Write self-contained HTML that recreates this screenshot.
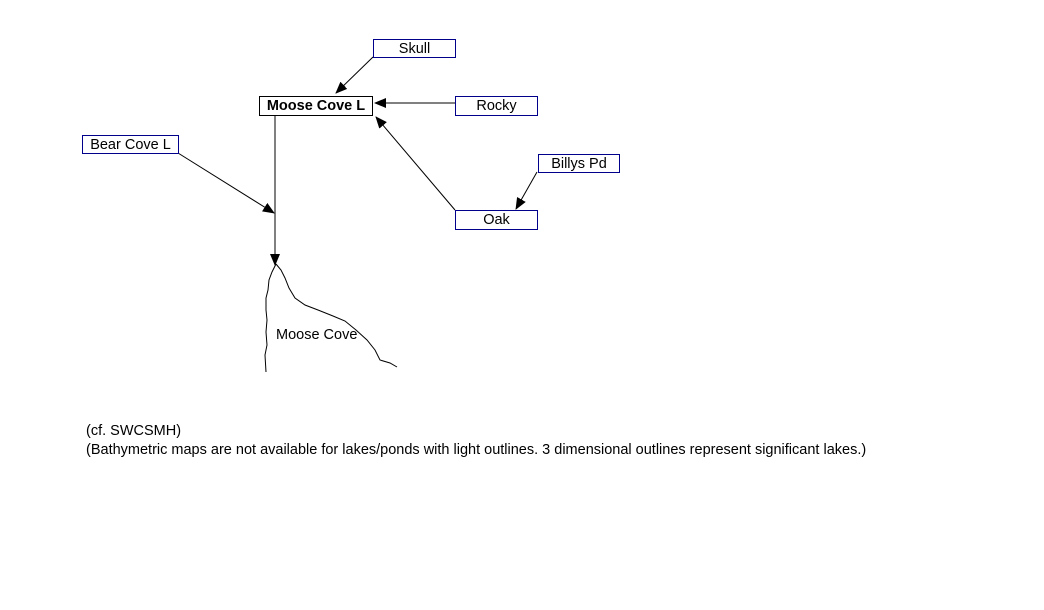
<!DOCTYPE html>
<html><head><style>
body{margin:0;width:1044px;height:610px;background:#fff;position:relative;font-family:"Liberation Sans",Arial,sans-serif;overflow:hidden}
.b{position:absolute;box-sizing:border-box;border:1px solid #00008b;background:#fff;font-size:14.5px;text-align:center;line-height:19px;color:#000;white-space:nowrap}
.t{position:absolute;font-size:14.5px;color:#000;white-space:nowrap}
</style></head><body>
<svg width="1044" height="610" style="position:absolute;left:0;top:0">
<defs><marker id="a" markerWidth="12" markerHeight="10" refX="11" refY="5" orient="auto" markerUnits="userSpaceOnUse"><path d="M0,0L12,5L0,10z" fill="#000"/></marker></defs>
<g stroke="#000" stroke-width="1" fill="none">
<line x1="373" y1="57" x2="336" y2="93" marker-end="url(#a)"/>
<line x1="455" y1="103" x2="375" y2="103" marker-end="url(#a)"/>
<line x1="455" y1="210" x2="376" y2="117" marker-end="url(#a)"/>
<line x1="537" y1="172" x2="516" y2="209" marker-end="url(#a)"/>
<line x1="178" y1="153" x2="274" y2="213" marker-end="url(#a)"/>
<line x1="275" y1="115" x2="275" y2="265" marker-end="url(#a)"/>
<path d="M276,264 L272,272 L269,280 L268,290 L266,298 L266,310 L267,320 L266,332 L267,345 L265,355 L266,372"/>
<path d="M276,264 L281,270 L285,278 L289,288 L295,298 L305,305 L318,310 L333,316 L345,321 L356,330 L367,340 L375,350 L380,360 L390,363 L397,367"/>
</g></svg>
<div class="b" style="left:373px;top:39px;width:83px;height:19px">Skull</div>
<div class="b" style="left:259px;top:96px;width:114px;height:20px;border-color:#000;font-weight:bold">Moose Cove L</div>
<div class="b" style="left:455px;top:96px;width:83px;height:20px">Rocky</div>
<div class="b" style="left:82px;top:135px;width:97px;height:19px">Bear Cove L</div>
<div class="b" style="left:538px;top:154px;width:82px;height:19px">Billys Pd</div>
<div class="b" style="left:455px;top:210px;width:83px;height:20px">Oak</div>
<div class="t" style="left:276px;top:327px">Moose Cove</div>
<div class="t" style="left:86px;top:423px">(cf. SWCSMH)</div>
<div class="t" style="left:86px;top:442px">(Bathymetric maps are not available for lakes/ponds with light outlines. 3 dimensional outlines represent significant lakes.)</div>
</body></html>
